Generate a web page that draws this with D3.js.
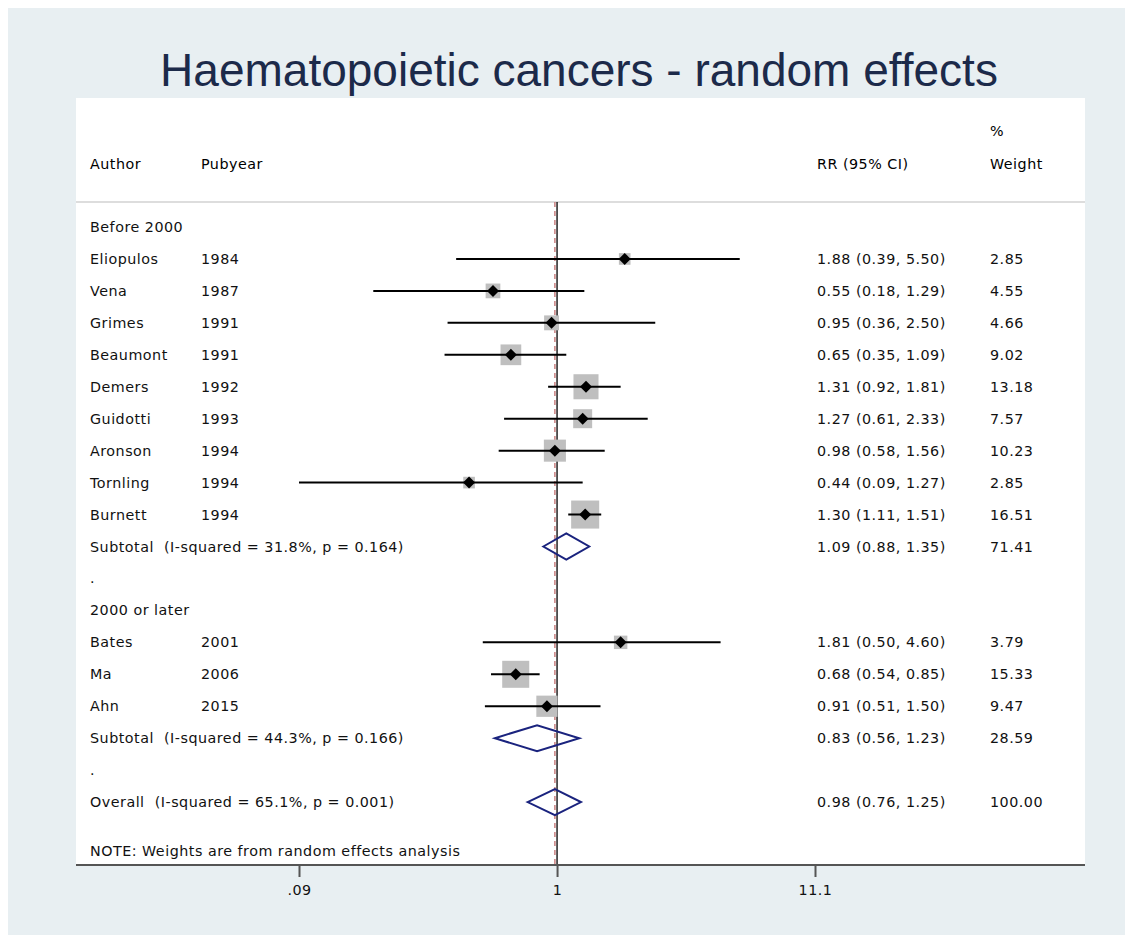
<!DOCTYPE html>
<html><head><meta charset="utf-8">
<script src="https://cdn.jsdelivr.net/npm/d3@7"></script>
<style>body{margin:0;background:#fff}text{font-family:"DejaVu Sans",sans-serif;white-space:pre;letter-spacing:0.5px}</style>
</head><body>
<script>
// rows of the forest plot, in order (type: head, study, sub, blank)
var labels = ["Before 2000","Eliopulos","Vena","Grimes","Beaumont","Demers","Guidotti","Aronson","Tornling","Burnett",
  "Subtotal  (I-squared = 31.8%, p = 0.164)",".","2000 or later","Bates","Ma","Ahn",
  "Subtotal  (I-squared = 44.3%, p = 0.166)",".","Overall  (I-squared = 65.1%, p = 0.001)"];
var kinds = ["head","study","study","study","study","study","study","study","study","study","sub","blank","head","study","study","study","sub","blank","sub"];
var years = ["","1984","1987","1991","1991","1992","1993","1994","1994","1994","","","","2001","2006","2015","","",""];
var rr =   [null,1.88,0.55,0.95,0.65,1.31,1.27,0.98,0.44,1.30,1.09,null,null,1.81,0.68,0.91,0.83,null,0.98];
var lo =   [null,0.39,0.18,0.36,0.35,0.92,0.61,0.58,0.09,1.11,0.88,null,null,0.50,0.54,0.51,0.56,null,0.76];
var hi =   [null,5.50,1.29,2.50,1.09,1.81,2.33,1.56,1.27,1.51,1.35,null,null,4.60,0.85,1.50,1.23,null,1.25];
var weight=[null,2.85,4.55,4.66,9.02,13.18,7.57,10.23,2.85,16.51,71.41,null,null,3.79,15.33,9.47,28.59,null,100.00];
var ticks = [0.09, 1, 11.1];
var tickLabels = [".09", "1", "11.1"];
var overall = 0.98;

var W = 1133, H = 939;
var svg = d3.select("body").append("svg").attr("width", W).attr("height", H);
svg.append("rect").attr("x",8).attr("y",8).attr("width",1117).attr("height",927).attr("fill","#e8eff2");
svg.append("rect").attr("x",76).attr("y",98).attr("width",1009).attr("height",767).attr("fill","#fff");

svg.append("text").attr("x",579).attr("y",86).attr("text-anchor","middle")
  .style("font-family","Arial, 'Liberation Sans', sans-serif").style("letter-spacing","0px")
  .attr("font-size",46).attr("fill","#1c2a4a").text("Haematopoietic cancers - random effects");

var x = d3.scaleLog().domain([0.09, 11.1]).range([299, 815]);
var y = function(i){ return 227 + i*31.95; };
var fs = 14.3, txt = "#111";

// header
svg.append("text").attr("x",90).attr("y",169).attr("font-size",fs).text("Author");
svg.append("text").attr("x",201).attr("y",169).attr("font-size",fs).text("Pubyear");
svg.append("text").attr("x",817).attr("y",169).attr("font-size",fs).text("RR (95% CI)");
svg.append("text").attr("x",990).attr("y",136).attr("font-size",fs).text("%");
svg.append("text").attr("x",990).attr("y",169).attr("font-size",fs).text("Weight");
svg.append("line").attr("x1",76).attr("x2",1085).attr("y1",202).attr("y2",202).attr("stroke","#bbb");

// reference lines
svg.append("line").attr("x1",x(1)).attr("x2",x(1)).attr("y1",202).attr("y2",865).attr("stroke","#000").attr("stroke-width",1.3);
svg.append("line").attr("x1",x(overall)).attr("x2",x(overall)).attr("y1",202).attr("y2",865)
  .attr("stroke","#c98080").attr("stroke-width",1.5).attr("stroke-dasharray","5,4");

labels.forEach(function(l,i){
  var yy = y(i), k = kinds[i];
  svg.append("text").attr("x",90).attr("y",yy+5).attr("font-size",fs).attr("fill",txt).text(l);
  if (years[i]) svg.append("text").attr("x",201).attr("y",yy+5).attr("font-size",fs).attr("fill",txt).text(years[i]);
  if (rr[i] != null) {
    svg.append("text").attr("x",817).attr("y",yy+5).attr("font-size",fs).attr("fill",txt)
      .text(rr[i].toFixed(2)+" ("+lo[i].toFixed(2)+", "+hi[i].toFixed(2)+")");
    svg.append("text").attr("x",990).attr("y",yy+5).attr("font-size",fs).attr("fill",txt).text(weight[i].toFixed(2));
  }
  if (k === "study") {
    var s = 6.9*Math.sqrt(weight[i]), cx = x(rr[i]);
    svg.append("rect").attr("x",cx-s/2).attr("y",yy-s/2).attr("width",s).attr("height",s).attr("fill","#bfbfbf");
    svg.append("line").attr("x1",x(lo[i])).attr("x2",x(hi[i])).attr("y1",yy).attr("y2",yy).attr("stroke","#000").attr("stroke-width",2);
    svg.append("path").attr("d","M"+(cx-6)+","+yy+"L"+cx+","+(yy-6)+"L"+(cx+6)+","+yy+"L"+cx+","+(yy+6)+"Z").attr("fill","#000");
  }
  if (k === "sub") {
    svg.append("path").attr("d","M"+x(lo[i])+","+yy+"L"+x(rr[i])+","+(yy-13)+"L"+x(hi[i])+","+yy+"L"+x(rr[i])+","+(yy+13)+"Z")
      .attr("fill","none").attr("stroke","#1a237e").attr("stroke-width",2);
  }
});

svg.append("text").attr("x",90).attr("y",856).attr("font-size",fs).attr("fill",txt).text("NOTE: Weights are from random effects analysis");

// axis
var ax = svg.append("g").attr("transform","translate(0,865)")
  .call(d3.axisBottom(x).tickValues(ticks).tickFormat(function(d,i){return tickLabels[i];}).tickSize(12).tickPadding(8));
ax.select(".domain").remove();
ax.selectAll("line").attr("stroke","#555").attr("stroke-width",2);
ax.selectAll("text").attr("font-size",fs).attr("fill",txt).style("font-family","DejaVu Sans, sans-serif");
svg.append("line").attr("x1",76).attr("x2",1085).attr("y1",865).attr("y2",865).attr("stroke","#555").attr("stroke-width",2);
</script>
</body></html>
